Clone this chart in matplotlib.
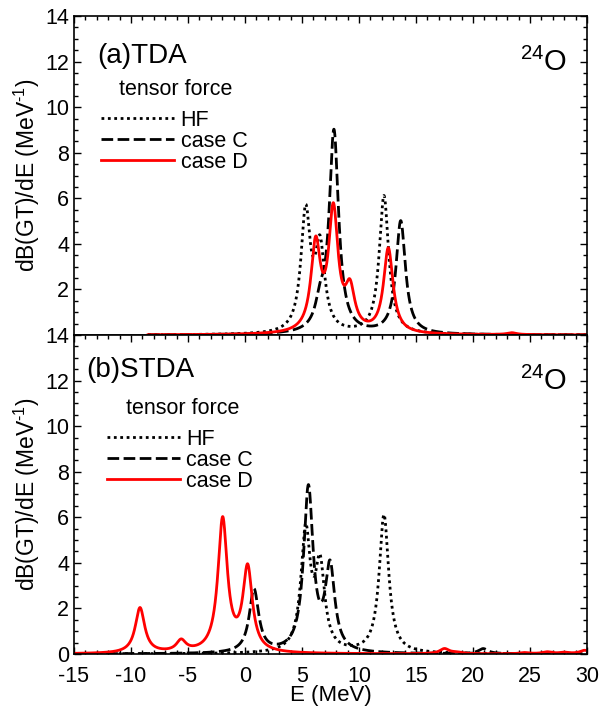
import numpy as np
import matplotlib
matplotlib.use("Agg")
import matplotlib.pyplot as plt
from matplotlib.ticker import MultipleLocator, FixedLocator

plt.rcParams['font.family'] = ['Liberation Sans', 'DejaVu Sans']
plt.rcParams['mathtext.fontset'] = 'custom'
plt.rcParams['mathtext.rm'] = 'Liberation Sans'
plt.rcParams['mathtext.it'] = 'Liberation Sans'
plt.rcParams['axes.unicode_minus'] = False

# ---------------- data (discrete GT states: energy [MeV], B(GT)) ----------------
width = 1.0  # Lorentzian FWHM used for smoothing [MeV]

hf_E = [5.32, 6.58, 12.19]
hf_B = [8.18, 5.70, 9.53]

tda_C_E = [6.6, 7.8, 13.66]
tda_C_B = [1.57, 13.90, 7.78]

tda_D_E = [6.2, 7.75, 9.21, 12.57, 23.4]
tda_D_B = [5.94, 8.22, 2.71, 5.84, 0.13]

stda_C_E = [0.79, 5.56, 7.46, 20.9]
stda_C_B = [4.35, 11.26, 5.73, 0.35]

stda_D_E = [-9.21, -5.6, -1.96, 0.23, 17.5, 18.6, 24.5, 26.5, 28.0, 29.8]
stda_D_B = [3.13, 0.77, 9.16, 5.75, 0.35, 0.09, 0.08, 0.13, 0.09, 0.24]

E_range_tda = (-8.5, 30.0)
E_range_stda = (-15.0, 30.0)

x_ticks = [-15, -10, -5, 0, 5, 10, 15, 20, 25, 30]
y_ticks_top = [2, 4, 6, 8, 10, 12, 14]
y_ticks_bot = [0, 2, 4, 6, 8, 10, 12, 14]


def strength(E, Ek, Bk, gamma):
    E = np.asarray(E)[:, None]
    Ek = np.asarray(Ek)[None, :]
    Bk = np.asarray(Bk)[None, :]
    g2 = gamma / 2.0
    return (Bk / np.pi * g2 / ((E - Ek) ** 2 + g2 ** 2)).sum(axis=1)


fig = plt.figure(figsize=(6.13, 7.06), dpi=100)
ax1 = fig.add_axes([0.1207, 0.5255, 0.8369, 0.4518])
ax2 = fig.add_axes([0.1207, 0.0737, 0.8369, 0.4518])

dotted = (0, (1.0, 1.3))
dashed = (0, (4.2, 1.6))

panels = [
    (ax1, E_range_tda, tda_C_E, tda_C_B, tda_D_E, tda_D_B, "(a)TDA", 0.045, 0.853, 0.0526, 0.199),
    (ax2, E_range_stda, stda_C_E, stda_C_B, stda_D_E, stda_D_B, "(b)STDA", 0.023, 0.868, 0.064, 0.2115),
]

for ax, er, cE, cB, dE, dB, title, tx, ty, lx, ttx in panels:
    E = np.linspace(er[0], er[1], 3000)
    ax.plot(E, strength(E, hf_E, hf_B, width), color='black', lw=2.0,
            linestyle=dotted, label='HF')
    ax.plot(E, strength(E, cE, cB, width), color='black', lw=2.0,
            linestyle=dashed, label='case C')
    ax.plot(E, strength(E, dE, dB, width), color='#ff0000', lw=2.0,
            linestyle='-', label='case D')

    ax.set_xlim(-15, 30)
    ax.set_ylim(0, 14)
    ax.xaxis.set_major_locator(FixedLocator(x_ticks))
    ax.xaxis.set_minor_locator(MultipleLocator(1))
    ax.yaxis.set_minor_locator(MultipleLocator(0.5))
    ax.tick_params(which='both', direction='in', top=True, right=True,
                   labelsize=15.5, width=1.0)
    ax.tick_params(which='major', length=5)
    ax.tick_params(which='minor', length=2.8)
    ax.tick_params(axis='x', pad=8.5)
    for sp in ax.spines.values():
        sp.set_linewidth(1.2)
        sp.set_color('black')
    ax.set_ylabel(r'dB(GT)/dE (MeV$^{\text{-1}}$)', fontsize=16.5, labelpad=2)

    ax.text(tx, ty, title, transform=ax.transAxes, fontsize=20,
            ha='left', va='baseline')
    ax.text(0.961, 0.828, r'$^{\mathregular{24}}$O', transform=ax.transAxes,
            fontsize=21, ha='right', va='baseline')
    ax.text(ttx, 0.771, 'tensor force', transform=ax.transAxes, fontsize=15.5,
            ha='center', va='center')

    ax.legend(loc='center left', bbox_to_anchor=(lx, 0.607), frameon=False,
              fontsize=15.5, handlelength=3.4, handletextpad=0.3,
              labelspacing=0.0, borderpad=0.0, borderaxespad=0.0)

ax1.yaxis.set_major_locator(FixedLocator(y_ticks_top))
ax2.yaxis.set_major_locator(FixedLocator(y_ticks_bot))
ax1.tick_params(axis='x', which='both', bottom=False, labelbottom=False)
ax2.set_xlabel('E (MeV)', fontsize=16, labelpad=-1)

fig.savefig('out.png', dpi=100)
